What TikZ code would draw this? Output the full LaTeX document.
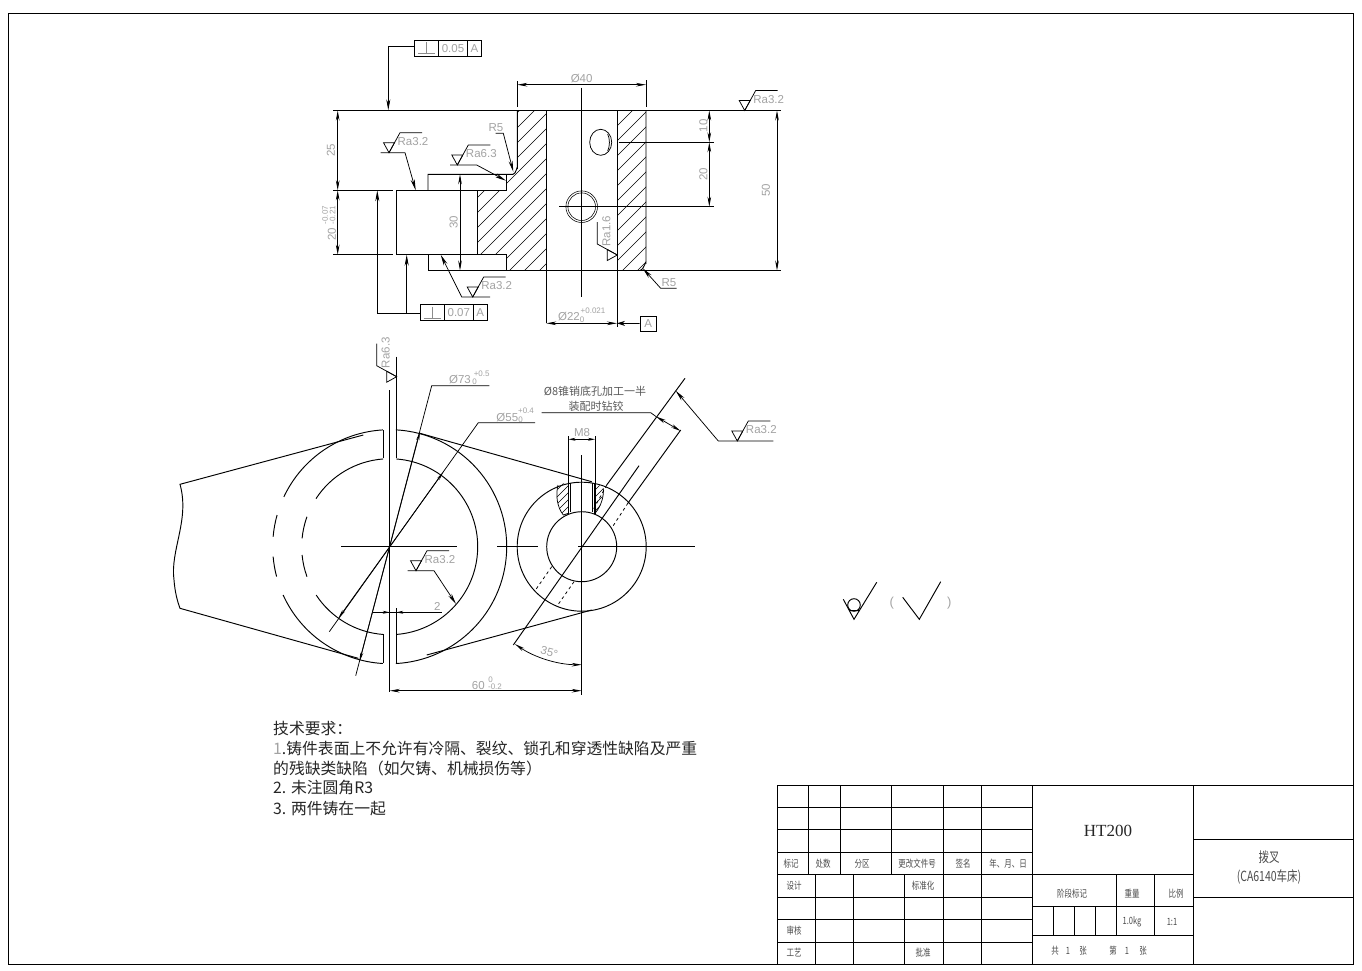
\documentclass[tikz,border=0pt]{standalone}
\usepackage{fontspec}
\usepackage{amsmath}
\usepackage{tikz}
\usetikzlibrary{arrows.meta}
\setmainfont{Liberation Sans}
\newfontfamily\cjkfont{Noto Sans CJK SC}
\newfontfamily\cjknarrow[FakeStretch=0.75]{Noto Sans CJK SC}
\newfontfamily\titlefont{Liberation Serif}
\definecolor{cadgray}{gray}{0.64}
\tikzset{
	obj/.style={line width=0.95pt},
	thin line/.style={line width=0.75pt},
	dim/.style={thin line, {Stealth[length=10pt,width=3.6pt]}-{Stealth[length=10pt,width=3.6pt]}},
	lead/.style={thin line, -{Stealth[length=11pt,width=4pt]}},
	txt/.style={inner sep=0pt, text=cadgray, font=\fontsize{11.5}{11.5}\selectfont},
	small/.style={inner sep=0pt, text=cadgray, font=\fontsize{8}{8}\selectfont},
	cell/.style={inner sep=0pt, text=black!70, font=\cjknarrow\fontsize{10}{10}\selectfont},
	note/.style={inner sep=0pt, anchor=west, text=black!85, font=\cjkfont\fontsize{15.8}{16}\selectfont}
}
% roughness mark: name, tip x, tip y, text
\newcommand{\ramark}[5][0]{
	\begin{scope}[shift={(#3,#4)},rotate=#1]
		\draw[thin line] (-5.5,-10) -- (5.5,-10) -- (0,0) -- cycle;
		\draw[thin line] (0,0) -- (11,-20) -- (33,-20);
		\node[txt,rotate=#1] (#2) at (24,-11) {#5};
	\end{scope}
}
% hatch inside a closed path
\newcommand{\hatchin}[4]{
	\begin{scope}
		\clip #1;
		\foreach \c in {#2,#3,...,#4} \draw[line width=0.55pt] (\c,0) -- (0,\c);
	\end{scope}
}

\begin{document}
\begin{tikzpicture}[x=1pt,y=-1pt]
	\useasboundingbox (0,0) rectangle (1362,970);
	\fill[white] (0,0) rectangle (1362,970);
	\draw[thin line] (8,13) rectangle (1353,964.5);

	% section view
	\hatchin{(517,110) -- (546.3,110) -- (546.3,270.5) -- (506.7,270.5) -- (506.7,254.7) -- (477.7,254.7) -- (477.7,190.3) -- (506.7,190.3) -- (506.7,174.3) -- (513,174.3) -- (517,168) -- cycle}{600}{615}{830}
	\hatchin{(617,110) -- (646,110) -- (646,263) -- (640,270.5) -- (617,270.5) -- cycle}{728}{743}{930}
	\draw[obj] (333,110.5) -- (781,110.5);
	\draw[obj] (428,270.5) -- (781,270.5);
	\draw[obj] (333,190.3) -- (393,190.3) (333,254.7) -- (393,254.7);
	\draw[obj] (396.3,190.3) rectangle (477.7,254.7);
	\draw[obj] (477.7,190.3) -- (506.7,190.3) (477.7,254.7) -- (506.7,254.7);
	\draw[obj] (428,190.3) -- (428,174.3) -- (513,174.3) to[out=0,in=90] (517.3,168) -- (517.3,110.5);
	\draw[obj] (428,254.7) -- (428,270.5) (506.7,174.3) -- (506.7,190.3) (506.7,254.7) -- (506.7,270.5);
	\draw[obj] (546.5,110.5) -- (546.5,323) (617.5,110.5) -- (617.5,327);
	\draw[obj] (646,110.5) -- (646,263) to[out=90,in=0] (640,270.5);
	\draw[thin line] (517.3,81) -- (517.3,107) (646,80) -- (646,107);
	\draw[thin line] (581.7,87.7) -- (581.7,296.7);
	\draw[thin line] (618.7,142.3) -- (714,142.3) (559,206.7) -- (714,206.7);
	\draw[thin line] (600.7,142.3) ellipse (11 and 13);
	\draw[thin line] (607.7,134) .. controls (610,139) and (610,146) .. (607.7,151);
	\draw[line width=0.55pt] (581.7,206.7) circle (13.8) circle (15.8);

	% dimensions of the section view
	\draw[dim] (517.3,84.7) -- node[txt,above=1.5pt] (dimforty) {Ø40} (646,84.7);
	\draw[dim] (337.7,110.5) -- (337.7,190.3);
	\node[txt,rotate=90] (dimtwentyfive) at (331,150) {25};
	\draw[dim] (337.7,190.3) -- (337.7,254.7);
	\node[txt,rotate=90] (dimtwenty) at (332,234) {20};
	\node[small,rotate=90] (tolup) at (325,215) {-0.07};
	\node[small,rotate=90] (tollow) at (332.7,215) {-0.21};
	\draw[dim] (460,174.3) -- (460,270.5);
	\node[txt,rotate=90] (dimthirty) at (453.7,222.3) {30};
	\draw[dim] (709.3,110.5) -- (709.3,142.3);
	\node[txt,rotate=90] (dimten) at (703.3,125.7) {10};
	\draw[dim] (709.3,142.3) -- (709.3,206.7);
	\node[txt,rotate=90] (dimtwentyb) at (703.3,174) {20};
	\draw[dim] (777,110.5) -- (777,270.5);
	\node[txt,rotate=90] (dimfifty) at (766,190) {50};
	\draw[dim] (546.3,323.3) -- (617,323.3);
	\node[txt] (dimbore) at (569,317) {Ø22};
	\node[small] (tolbore) at (593,311) {+0.021};
	\node[small] (tolborez) at (582,320) {0};
	\node[draw,thin line,minimum width=16.7pt,minimum height=15.3pt,txt] (datum) at (648.3,323.6) {A};
	\draw[thin line,-{Stealth[length=8pt,width=5pt]}] (datum.west) -- (617,323.3);

	% geometric tolerance frames
	\draw[thin line] (414.3,40) rectangle (481.3,56.3) (438.3,40) -- (438.3,56.3) (467.7,40) -- (467.7,56.3);
	\draw[thin line,black!45] (418,53.5) -- (435,53.5) (426.5,42) -- (426.5,53.5);
	\node[txt] (frametop) at (453,48.5) {0.05};
	\node[txt] (frametopa) at (474.5,48.5) {A};
	\draw[lead] (414.3,46.7) -- (388.3,46.7) -- (388.3,110.3);
	\draw[thin line] (420,304.3) rectangle (487.3,320.7) (444.3,304.3) -- (444.3,320.7) (473.3,304.3) -- (473.3,320.7);
	\draw[thin line,black!45] (423.5,318) -- (441,318) (432.3,306.5) -- (432.3,318);
	\node[txt] (framelow) at (458.8,313) {0.07};
	\node[txt] (framelowa) at (480.3,313) {A};
	\draw[lead] (420,313.7) -- (377.3,313.7) -- (377.3,190.3);
	\draw[lead] (406.7,313.7) -- (406.7,254.7);

	% roughness marks of the section view
	\ramark{raleft}{389}{152.7}{Ra3.2}
	\draw[lead] (380.7,152.7) -- (405,152.7) -- (415.7,190.3);
	\ramark{raboss}{457.3}{165}{Ra6.3}
	\draw[lead] (450,165) -- (476.7,165) -- (506,180.7);
	\ramark{rabottom}{472.7}{297}{Ra3.2}
	\draw[lead] (490,297) -- (461.7,297) -- (440.7,254.7);
	\ramark{ratop}{744.7}{110.5}{Ra3.2}
	\ramark[90]{rabore}{617.3}{255}{Ra1.6}
	\node[txt] (filletup) at (496,127.7) {R5};
	\draw[lead] (495.7,133.3) -- (503.3,133.3) -- (513.3,171.7);
	\node[txt] (filletlow) at (669,283) {R5};
	\draw[lead] (676.7,288.3) -- (660.7,288.3) -- (642.7,268.3);

	% plan view, big bore
	\coordinate (bigc) at (389.7,546.7);
	\coordinate (smallc) at (581.7,546.7);
	\draw[obj] ([shift={(bigc)}]-87:117) arc (-87:87:117);
	\draw[obj] ([shift={(bigc)}]-85.7:88) arc (-85.7:85.7:88);
	\foreach \a/\b in {-93.3/-154.8, -164.3/-175.1, 175.1/165.2, 155.6/93.3}
		\draw[obj] ([shift={(bigc)}]\a:117) arc (\a:\b:117);
	\foreach \a/\b in {-94.3/-146.9, -160.1/-174.6, 174.6/160.1, 146.7/94.3}
		\draw[obj] ([shift={(bigc)}]\a:88) arc (\a:\b:88);
	\draw[obj] (383,430) -- (383,458.3) (383,634) -- (383,663.3);
	\draw[obj] (396.3,356.7) -- (396.3,458.3) (396.3,608) -- (396.3,663.3);
	\draw[line width=1.5pt] (389.7,390) -- (389.7,691.7);
	\draw[thin line] (341,546.7) -- (457,546.7) (497.3,546.7) -- (538.3,546.7) (578,546.7) -- (695,546.7);

	% fork outline
	\draw[obj] (363.3,435) -- (180,484.3) .. controls (190,520) and (170,550) .. (174,580) .. controls (175,592) and (177,600) .. (180,608.3) -- (358.3,658.3);
	\draw[obj] (420,433.3) -- (591.7,481.7);
	\draw[obj] (426.7,655) -- (591.7,610);

	% plan view, small boss
	\draw[obj] (smallc) circle (64.5) circle (35);
	\hatchin{(558,485) -- (556.7,500) -- (563.3,515) -- (568.5,513.3) -- (568.5,482) -- cycle}{1040}{1047}{1090}
	\hatchin{(595,482) -- (603.3,488.3) -- (601.7,503.3) -- (595,513.3) -- cycle}{1064}{1071}{1120}
	\draw[thin line] (558,485) .. controls (555.5,495) and (557,507) .. (563.3,515) -- (568.5,513.3);
	\draw[thin line] (603.3,488.3) .. controls (604,495) and (602,505) .. (595,513.3);
	\draw[obj] (570.8,483) -- (570.8,512) (592.7,483) -- (592.7,512);
	\draw[line width=1.2pt] (568.5,483) -- (568.5,513.5) (595,483) -- (595,513.5);
	\draw[thin line] (568.5,436) -- (568.5,483) (595,436) -- (595,483);
	\draw[line width=1.5pt] (581.7,455) -- (581.7,695);
	\draw[thin line,{Stealth[length=7pt,width=3pt]}-{Stealth[length=7pt,width=3pt]}] (568.5,439.3) -- (595,439.3);
	\node[txt] (dimmeight) at (582,433) {M8};

	% pin hole at 35 degrees
	\draw[obj] (685,378.3) -- (606.7,485);
	\draw[obj] (680.7,430) -- (628,503);
	\draw[obj] (639,465.7) -- (513.3,645);
	\draw[thin line,dashed] (606.7,485) -- (593,510) (628,503) -- (611.7,528);
	\draw[thin line,dashed] (551.7,566.7) -- (535,590.7) (574,581.7) -- (557.3,605.7);

	% leaders of the plan view
	\draw[thin line] (489.3,385.7) -- (431.7,385.7) -- (355.7,675.7);
	\draw[lead,-{Stealth[length=9pt,width=3pt]}] (389.7,546.7) -- (420,431.5);
	\draw[lead,-{Stealth[length=9pt,width=3pt]}] (389.7,546.7) -- (359.5,661.5);
	\node[txt] (dimoutr) at (460,380) {Ø73};
	\node[small] (toloutr) at (481.7,374) {+0.5};
	\node[small] (toloutrz) at (474.5,382) {0};
	\draw[thin line] (535,422.7) -- (478.3,422.7) -- (329.3,631.7);
	\draw[lead,-{Stealth[length=9pt,width=3pt]}] (389.7,546.7) -- (443.3,472);
	\draw[lead,-{Stealth[length=9pt,width=3pt]}] (389.7,546.7) -- (338.5,618);
	\node[txt] (dimintr) at (507.3,417.7) {Ø55};
	\node[small] (tolintr) at (526,411) {+0.4};
	\node[small] (tolintrz) at (520.7,419.3) {0};
	\node[cell,text=black!65,font=\cjkfont\fontsize{11}{11}\selectfont] (pinnote) at (595,391) {Ø8锥销底孔加工一半};
	\node[cell,text=black!65,font=\cjkfont\fontsize{11}{11}\selectfont] (pinnoteb) at (596,406) {装配时钻铰};
	\draw[thin line] (541.7,412.7) -- (650.7,412.7) -- (656,416.5);
	\draw[dim] (656,416.5) -- (680.7,431);
	\draw[thin line] (373.3,612.3) -- (441.7,612.3);
	\draw[lead,-{Stealth[length=7pt,width=3pt]}] (373.3,612.3) -- (389.7,612.3);
	\draw[lead,-{Stealth[length=7pt,width=3pt]}] (412,612.3) -- (396.3,612.3);
	\node[txt] (dimtwo) at (437.3,606.7) {2};
	\draw[dim] (389.7,690.7) -- (581.7,690.7);
	\node[txt] (dimsixty) at (478.3,686) {60};
	\node[small] (tolsixty) at (490.7,680) {0};
	\node[small] (tolsixtyb) at (495,687) {-0.2};
	\draw[dim] ([shift={(smallc)}]124.4:118) arc (124.4:90:118);
	\node[txt,rotate=-15] (dimangle) at (549.3,652.3) {35°};

	% roughness marks of the plan view
	\ramark[90]{raface}{396.7}{376.7}{Ra6.3}
	\ramark{rainner}{416}{570.7}{Ra3.2}
	\draw[lead] (407.7,570.7) -- (434,570.7) -- (456,604);
	\ramark{rapin}{737.3}{441}{Ra3.2}
	\draw[lead] (773.3,441) -- (718.3,441) -- (675.7,390.7);

	% other surfaces symbol
	\draw[obj] (843.3,599.3) -- (854,619.3) -- (876.7,582.3);
	\draw[obj] (854,605) circle (6.3) (849,610.7) -- (859.5,610.7);
	\draw[obj] (902.7,597.3) -- (919.3,619.3) -- (940.7,581.7);
	\node[txt,font=\fontsize{13}{13}\selectfont] (parenl) at (891.7,603.3) {(};
	\node[txt,font=\fontsize{13}{13}\selectfont] (parenr) at (949.3,603.3) {)};

	% technical requirements
	\node[note] (reqhead) at (273,728) {技术要求：};
	\node[note] (reqone) at (273,748) {{\color{cadgray}1}.铸件表面上不允许有冷隔、裂纹、锁孔和穿透性缺陷及严重};
	\node[note] (reqonee) at (273,768) {的残缺类缺陷（如欠铸、机械损伤等）};
	\node[note] (reqtwo) at (273,788) {2. 未注圆角R3};
	\node[note] (reqthree) at (273,809) {3. 两件铸在一起};

	% title block
	\draw[obj] (777,785) rectangle (1353,964.5);
	\foreach \y in {807.3,829.7,852.3,874.3} \draw[obj] (777,\y) -- (1033,\y);
	\foreach \y in {897,919.3,942} \draw[obj] (777,\y) -- (1033,\y);
	\foreach \x in {808.7,840.7,891.7,943.3,981.7} \draw[obj] (\x,785) -- (\x,874.3);
	\foreach \x in {815,853.3,904.7,943.3,981.7} \draw[obj] (\x,874.3) -- (\x,964);
	\draw[obj] (1032.7,785) -- (1032.7,964) (1193,785) -- (1193,964);
	\foreach \y in {874.3,906.7,935.3} \draw[obj] (1033,\y) -- (1193,\y);
	\draw[obj] (1116.3,874.3) -- (1116.3,935.3) (1154.7,874.3) -- (1154.7,935.3);
	\foreach \x in {1053.3,1074.3,1095.3} \draw[obj] (\x,906.7) -- (\x,935.3);
	\draw[obj] (1193,839.3) -- (1353,839.3) (1193,897) -- (1353,897);
	\foreach \n/\x/\y/\t in {a/791/864/标记, b/823/864/处数, c/862/864/分区, d/917/864/更改文件号, e/963/864/签名, f/1008/864/年、月、日, g/794/886/设计, h/923/886/标准化, i/794/931/审核, j/794/953/工艺, k/923/953/批准, l/1072/894/阶段标记, m/1132/894/重量, n/1176/894/比例, o/1055/951/共, p/1068/951/1, q/1083/951/张, r/1113/951/第, s/1127/951/1, t/1143/951/张, u/1132/922/1.0kg, v/1172/922/1:1}
		\node[cell] (cell\n) at (\x,\y) {\t};
	\node[inner sep=0pt,text=black!85,font=\titlefont\fontsize{17}{17}\selectfont] (material) at (1108,831) {HT200};
	\node[cell,font=\cjknarrow\fontsize{14}{14}\selectfont] (partname) at (1269,857) {拨叉};
	\node[cell,font=\cjknarrow\fontsize{14}{14}\selectfont] (partnameb) at (1269,877) {(CA6140车床)};
\end{tikzpicture}
\end{document}
